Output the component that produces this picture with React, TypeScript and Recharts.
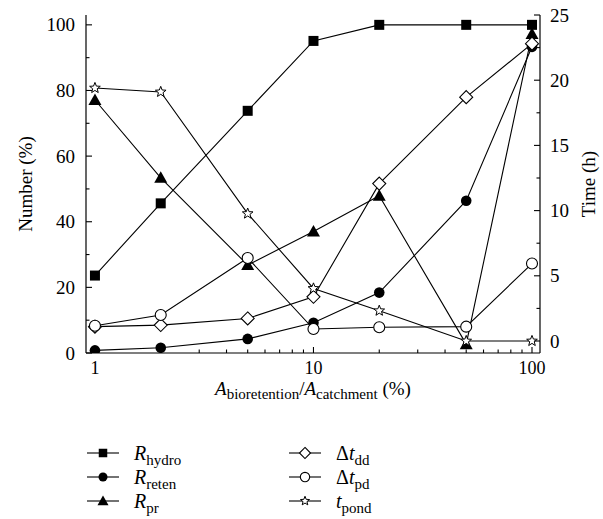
import { LineChart, Line, XAxis, YAxis, Legend } from "recharts";

const xValues = [1, 2, 5, 10, 20, 50, 100];
const rHydro = [23.6, 45.6, 73.8, 95.1, 100, 100, 100];
const rReten = [0.8, 1.6, 4.3, 9.2, 18.4, 46.4, 93.3];
const rPr = [77.1, 53.4, 26.8, 37.0, 47.9, 2.7, 97.2];
const dtDd = [1.1, 1.22, 1.73, 3.39, 12.07, 18.7, 22.8];
const dtPd = [1.17, 1.99, 6.37, 0.92, 1.05, 1.1, 5.94];
const tPond = [19.4, 19.1, 9.77, 4.03, 2.32, 0, 0];

const xTicks = [1, 2, 3, 4, 5, 6, 7, 8, 9, 10, 20, 30, 40, 50, 60, 70, 80, 90, 100];
const xMajor = [1, 10, 100];
const leftTicks = [0, 10, 20, 30, 40, 50, 60, 70, 80, 90, 100];
const rightTicks = [0, 2.5, 5, 7.5, 10, 12.5, 15, 17.5, 20, 22.5, 25];

const data = xValues.map((x, i) => ({
  x,
  rHydro: rHydro[i],
  rReten: rReten[i],
  rPr: rPr[i],
  dtDd: dtDd[i],
  dtPd: dtPd[i],
  tPond: tPond[i],
}));

type Shape = "square" | "circle" | "triangle" | "diamond" | "ocircle" | "star";

const series: { key: string; axis: string; shape: Shape; main: string; sub: string; delta?: boolean }[] = [
  { key: "rHydro", axis: "left", shape: "square", main: "R", sub: "hydro" },
  { key: "rReten", axis: "left", shape: "circle", main: "R", sub: "reten" },
  { key: "rPr", axis: "left", shape: "triangle", main: "R", sub: "pr" },
  { key: "dtDd", axis: "right", shape: "diamond", main: "t", sub: "dd", delta: true },
  { key: "dtPd", axis: "right", shape: "ocircle", main: "t", sub: "pd", delta: true },
  { key: "tPond", axis: "right", shape: "star", main: "t", sub: "pond" },
];

const FONT = "Liberation Serif, DejaVu Serif, serif";
const INK = "#000";

const Marker = ({ shape, cx, cy, scale = 1 }: { shape: Shape; cx: number; cy: number; scale?: number }) => {
  const k = scale;
  switch (shape) {
    case "square":
      return <rect x={cx - 5 * k} y={cy - 5 * k} width={10 * k} height={10 * k} fill={INK} />;
    case "circle":
      return <circle cx={cx} cy={cy} r={5.3 * k} fill={INK} />;
    case "triangle":
      return (
        <polygon
          points={`${cx},${cy - 6.5 * k} ${cx + 6.5 * k},${cy + 5 * k} ${cx - 6.5 * k},${cy + 5 * k}`}
          fill={INK}
        />
      );
    case "diamond":
      return (
        <polygon
          points={`${cx},${cy - 6.5 * k} ${cx + 6.5 * k},${cy} ${cx},${cy + 6.5 * k} ${cx - 6.5 * k},${cy}`}
          fill="#fff"
          stroke={INK}
          strokeWidth={1.1}
        />
      );
    case "ocircle":
      return <circle cx={cx} cy={cy} r={5.5 * k} fill="#fff" stroke={INK} strokeWidth={1.1} />;
    default: {
      const pts: string[] = [];
      for (let j = 0; j < 10; j++) {
        const r = (j % 2 === 0 ? 5.6 : 2.4) * k;
        const a = -Math.PI / 2 + (j * Math.PI) / 5;
        pts.push(`${cx + r * Math.cos(a)},${cy + r * Math.sin(a)}`);
      }
      return <polygon points={pts.join(" ")} fill="#fff" stroke={INK} strokeWidth={1} />;
    }
  }
};

const makeDot = (shape: Shape) => (props: any) => (
  <g key={`${shape}-${props.index}`}>
    <Marker shape={shape} cx={props.cx} cy={props.cy} />
  </g>
);

const BottomTick = (props: any) => {
  const { x, y, payload } = props;
  const major = xMajor.includes(payload.value);
  return (
    <g>
      <line x1={x} x2={x} y1={y} y2={y - (major ? 6 : 3.5)} stroke={INK} strokeWidth={1.1} />
      {major && (
        <text x={x} y={y + 21} textAnchor="middle" fontFamily={FONT} fontSize={18} fill={INK}>
          {payload.value}
        </text>
      )}
    </g>
  );
};

const TopTick = (props: any) => {
  const { x, y, payload } = props;
  const major = xMajor.includes(payload.value);
  return <line x1={x} x2={x} y1={y} y2={y + (major ? 6 : 3.5)} stroke={INK} strokeWidth={1.1} />;
};

const LeftTick = (props: any) => {
  const { x, y, payload } = props;
  const major = payload.value % 20 === 0;
  return (
    <g>
      <line x1={x} x2={x + (major ? 6 : 3.5)} y1={y} y2={y} stroke={INK} strokeWidth={1.1} />
      {major && (
        <text x={x - 11} y={y} dy="0.35em" textAnchor="end" fontFamily={FONT} fontSize={19} fill={INK}>
          {payload.value}
        </text>
      )}
    </g>
  );
};

const RightTick = (props: any) => {
  const { x, y, payload } = props;
  const major = payload.value % 5 === 0;
  return (
    <g>
      <line x1={x} x2={x - (major ? 6 : 3.5)} y1={y} y2={y} stroke={INK} strokeWidth={1.1} />
      {major && (
        <text x={x + 10} y={y} dy="0.35em" textAnchor="start" fontFamily={FONT} fontSize={19} fill={INK}>
          {payload.value}
        </text>
      )}
    </g>
  );
};

const XLabel = (props: any) => {
  const vb = props.viewBox || {};
  const cx = vb.x + vb.width / 2;
  const y = vb.y + 42;
  return (
    <text x={cx} y={y} textAnchor="middle" fontFamily={FONT} fontSize={19} fill={INK}>
      <tspan fontStyle="italic">A</tspan>
      <tspan dy={4} fontSize={15}>bioretention</tspan>
      <tspan dy={-4}>/</tspan>
      <tspan fontStyle="italic">A</tspan>
      <tspan dy={4} fontSize={15}>catchment</tspan>
      <tspan dy={-4}> (%)</tspan>
    </text>
  );
};

const YLabel = (text: string, xPos: number) => (props: any) => {
  const vb = props.viewBox || {};
  const cy = vb.y + vb.height / 2;
  return (
    <text
      x={xPos}
      y={cy}
      transform={`rotate(-90 ${xPos} ${cy})`}
      textAnchor="middle"
      dy="0.35em"
      fontFamily={FONT}
      fontSize={19}
      fill={INK}
    >
      {text}
    </text>
  );
};

const LegendItem = ({ s }: { s: (typeof series)[number] }) => (
  <div style={{ display: "flex", alignItems: "center", height: 24 }}>
    <svg width={34} height={16} style={{ marginRight: 14 }}>
      <line x1={1} x2={33} y1={8} y2={8} stroke={INK} strokeWidth={1.1} />
      <Marker shape={s.shape} cx={17} cy={8} scale={0.85} />
    </svg>
    <span style={{ fontFamily: FONT, fontSize: 20, color: INK, whiteSpace: "nowrap", lineHeight: "20px" }}>
      {s.delta ? "Δ" : ""}
      <i>{s.main}</i>
      <sub style={{ fontSize: 15, lineHeight: 0 }}>{s.sub}</sub>
    </span>
  </div>
);

const LegendContent = () => (
  <div style={{ display: "flex" }}>
    <div style={{ width: 202 }}>
      {series.slice(0, 3).map((s) => (
        <LegendItem key={s.key} s={s} />
      ))}
    </div>
    <div>
      {series.slice(3).map((s) => (
        <LegendItem key={s.key} s={s} />
      ))}
    </div>
  </div>
);

const App = () => (
  <div style={{ position: "absolute", left: 0, top: 0, background: "#fff" }}>
    <LineChart width={603} height={519} data={data} margin={{ top: 15, right: 0, left: 0, bottom: 0 }}>
      <XAxis
        dataKey="x"
        type="number"
        scale="log"
        domain={[0.91, 108.8]}
        allowDataOverflow
        ticks={xTicks}
        interval={0}
        tickSize={0}
        tickMargin={0}
        tick={<BottomTick />}
        height={166}
        stroke={INK}
        strokeWidth={1.2}
        label={{ content: (p: any) => <XLabel {...p} /> }}
      />
      <XAxis
        xAxisId="top"
        dataKey="x"
        orientation="top"
        type="number"
        scale="log"
        domain={[0.91, 108.8]}
        allowDataOverflow
        ticks={xTicks}
        interval={0}
        tickSize={0}
        tickMargin={0}
        tick={<TopTick />}
        height={0}
        stroke={INK}
        strokeWidth={1.2}
      />
      <YAxis
        yAxisId="left"
        type="number"
        domain={[0, 103]}
        allowDataOverflow
        ticks={leftTicks}
        interval={0}
        tickSize={0}
        tickMargin={0}
        tick={<LeftTick />}
        width={86}
        stroke={INK}
        strokeWidth={1.2}
        label={{ content: YLabel("Number (%)", 25) }}
      />
      <YAxis
        yAxisId="right"
        orientation="right"
        type="number"
        domain={[-0.92, 25]}
        allowDataOverflow
        ticks={rightTicks}
        interval={0}
        tickSize={0}
        tickMargin={0}
        tick={<RightTick />}
        width={63}
        stroke={INK}
        strokeWidth={1.2}
        label={{ content: YLabel("Time (h)", 588) }}
      />
      {series.map((s) => (
        <Line
          key={s.key}
          yAxisId={s.axis}
          dataKey={s.key}
          type="linear"
          stroke={INK}
          strokeWidth={1.1}
          dot={makeDot(s.shape)}
          activeDot={false}
          isAnimationActive={false}
        />
      ))}
      <Legend
        layout="horizontal"
        verticalAlign="middle"
        align="center"
        content={<LegendContent />}
        wrapperStyle={{ top: 441, left: 86, width: 320, height: 76 }}
      />
    </LineChart>
  </div>
);

export default App;
